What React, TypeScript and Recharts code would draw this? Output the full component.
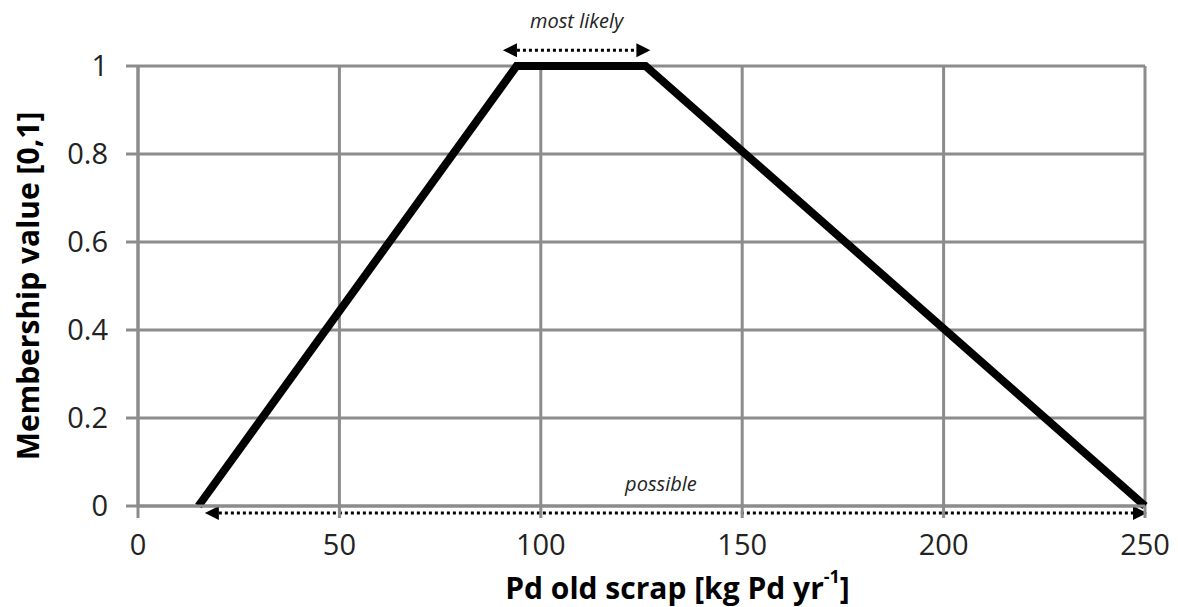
import { LineChart, Line, XAxis, YAxis, CartesianGrid, ReferenceLine, Label } from "recharts";

const scrap = [15, 94, 126, 250];
const membership = [0, 1, 1, 0];
const xTicks = [0, 50, 100, 150, 200, 250];
const yTicks = [0, 0.2, 0.4, 0.6, 0.8, 1];

const data = scrap.map((x, i) => ({ x, y: membership[i] }));

const GRID = "#8c8c8c";
const FONT = "'Open Sans', sans-serif";

const Arrow = (props: any) => {
  const { x1, y1, x2, y2, text, dx = 0, dy = -28 } = props;
  const h = 14;
  const w = 7;
  return (
    <g>
      <line x1={x1 + h} y1={y1} x2={x2 - h} y2={y2} stroke="#000" strokeWidth={3} strokeDasharray="3 3" />
      <polygon points={`${x1},${y1} ${x1 + h},${y1 - w} ${x1 + h},${y1 + w}`} fill="#000" />
      <polygon points={`${x2},${y2} ${x2 - h},${y2 - w} ${x2 - h},${y2 + w}`} fill="#000" />
      <text
        x={(x1 + x2) / 2 + dx}
        y={y1 + dy}
        textAnchor="middle"
        dominantBaseline="central"
        fontFamily={FONT}
        fontStyle="italic"
        fontSize={20}
        fill="#222"
      >
        {text}
      </text>
    </g>
  );
};

const XTitle = (props: any) => {
  const { viewBox } = props;
  const cx = viewBox.x + viewBox.width / 2;
  return (
    <text x={cx + 36} y={587} textAnchor="middle" dominantBaseline="central" fontFamily={FONT} fontWeight="bold" fontSize={30} fill="#000">
      Pd old scrap [kg Pd yr
      <tspan dy={-11} fontSize={18}>-1</tspan>
      <tspan dy={11}>]</tspan>
    </text>
  );
};

const YTitle = (props: any) => {
  const { viewBox } = props;
  const cy = viewBox.y + viewBox.height / 2;
  return (
    <text
      x={27}
      y={cy}
      transform={`rotate(-90, 27, ${cy})`}
      textAnchor="middle"
      dominantBaseline="central"
      fontFamily={FONT}
      fontWeight="bold"
      fontSize={30}
      fill="#000"
    >
      Membership value [0,1]
    </text>
  );
};

export default function App() {
  return (
    <div style={{ position: "absolute", left: 0, top: 0, background: "#fff" }}>
      <LineChart width={1178} height={607} data={data} margin={{ top: 66, right: 33, bottom: 0, left: 0 }}>
        <CartesianGrid stroke={GRID} strokeWidth={3} horizontalValues={yTicks} verticalValues={xTicks} />
        <XAxis
          dataKey="x"
          type="number"
          domain={[0, 250]}
          ticks={xTicks}
          tickSize={12}
          tickMargin={16}
          axisLine={{ stroke: GRID, strokeWidth: 3 }}
          tickLine={{ stroke: GRID, strokeWidth: 3 }}
          tick={{ fill: "#222", fontSize: 29, fontFamily: FONT }}
          height={101}
        >
          <Label content={<XTitle />} />
        </XAxis>
        <YAxis
          type="number"
          domain={[0, 1]}
          ticks={yTicks}
          width={138}
          tickSize={12}
          tickMargin={18}
          axisLine={{ stroke: GRID, strokeWidth: 3 }}
          tickLine={{ stroke: GRID, strokeWidth: 3 }}
          tick={{ fill: "#222", fontSize: 29, fontFamily: FONT }}
        >
          <Label content={<YTitle />} />
        </YAxis>
        <ReferenceLine
          segment={[{ x: 90.6, y: 1.036 }, { x: 127.2, y: 1.036 }]}
          ifOverflow="visible"
          shape={(p: any) => <Arrow {...p} text="most likely" dy={-30} />}
        />
        <ReferenceLine
          segment={[{ x: 16.6, y: -0.016 }, { x: 250.5, y: -0.016 }]}
          ifOverflow="visible"
          shape={(p: any) => <Arrow {...p} text="possible" dx={-15} dy={-30} />}
        />
        <Line dataKey="y" type="linear" stroke="#000" strokeWidth={8} dot={false} isAnimationActive={false} />
      </LineChart>
    </div>
  );
}
